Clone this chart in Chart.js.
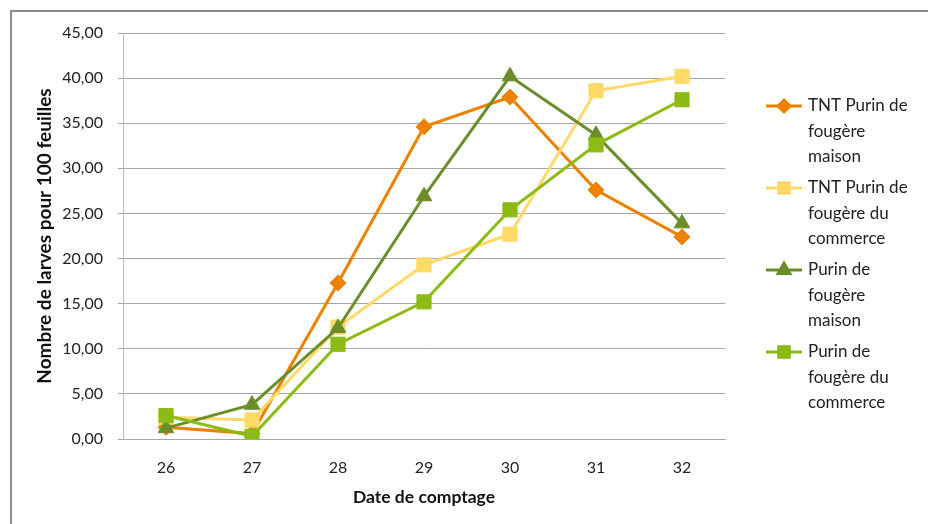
<!DOCTYPE html>
<html>
<head>
<meta charset="utf-8">
<script src="https://cdn.jsdelivr.net/npm/chart.js@4.4.1/dist/chart.umd.min.js"></script>
<style>
  html, body { margin: 0; padding: 0; background: #fff; }
  #wrap { width: 928px; height: 524px; }
</style>
</head>
<body>
<div id="wrap"><canvas id="myChart" width="928" height="524"></canvas></div>
<script>
// data
const dates = ['26', '27', '28', '29', '30', '31', '32'];
const tntMaison = [1.3, 0.6, 17.3, 34.6, 37.9, 27.6, 22.4];
const tntCommerce = [2.4, 2.1, 12.4, 19.3, 22.7, 38.6, 40.2];
const purinMaison = [1.2, 3.8, 12.3, 26.9, 40.2, 33.7, 23.9];
const purinCommerce = [2.6, 0.3, 10.5, 15.2, 25.4, 32.6, 37.6];
const seriesNames = [
  ['TNT Purin de', 'fougère', 'maison'],
  ['TNT Purin de', 'fougère du', 'commerce'],
  ['Purin de', 'fougère', 'maison'],
  ['Purin de', 'fougère du', 'commerce']
];

const FONT = 'Lato, "Open Sans", sans-serif';

function makeSet(label, data, color, shape, radius, order) {
  return {
    label: label.join(' '),
    legendLines: label,
    data: data,
    borderColor: color,
    backgroundColor: color,
    borderWidth: 3,
    pointStyle: shape,
    pointRadius: radius,
    pointHoverRadius: radius,
    pointBorderWidth: 1,
    tension: 0,
    order: order
  };
}

// frame around the whole chart + white background
const framePlugin = {
  id: 'frame',
  beforeDraw(chart) {
    const ctx = chart.ctx;
    ctx.save();
    ctx.fillStyle = '#fff';
    ctx.fillRect(0, 0, chart.width, chart.height);
    ctx.strokeStyle = '#8c8c8c';
    ctx.lineWidth = 2;
    ctx.strokeRect(11, 11, chart.width + 20, chart.height + 20);
    ctx.restore();
  }
};

// legend on the right with wrapped labels
const sideLegend = {
  id: 'sideLegend',
  afterDraw(chart) {
    const ctx = chart.ctx;
    const x0 = 766, lineLen = 36, textX = 808;
    const lineH = 25.5, itemGap = 82;
    let y = 106;
    ctx.save();
    chart.data.datasets.forEach((ds) => {
      ctx.strokeStyle = ds.borderColor;
      ctx.lineWidth = ds.borderWidth;
      ctx.beginPath();
      ctx.moveTo(x0, y);
      ctx.lineTo(x0 + lineLen, y);
      ctx.stroke();
      ctx.fillStyle = ds.backgroundColor;
      // legend markers a bit smaller than on the plot
      Chart.helpers.drawPoint(ctx, {
        pointStyle: ds.pointStyle,
        radius: ds.pointRadius * 0.75,
        borderWidth: 1,
        rotation: 0
      }, x0 + lineLen / 2, y);
      ctx.fillStyle = '#222';
      ctx.font = '17px ' + FONT;
      ctx.textBaseline = 'middle';
      ctx.textAlign = 'left';
      ds.legendLines.forEach((t, i) => {
        ctx.fillText(t, textX, y + i * lineH);
      });
      y += itemGap;
    });
    ctx.restore();
  }
};

const ctx = document.getElementById('myChart');

new Chart(ctx, {
  type: 'line',
  data: {
    labels: dates,
    datasets: [
      makeSet(seriesNames[0], tntMaison, '#EE8200', 'rectRot', 8, 4),
      makeSet(seriesNames[1], tntCommerce, '#FFD966', 'rect', 10, 3),
      makeSet(seriesNames[2], purinMaison, '#6B8E2A', 'triangle', 9, 2),
      makeSet(seriesNames[3], purinCommerce, '#8CBB16', 'rect', 10, 1)
    ]
  },
  options: {
    responsive: false,
    animation: false,
    layout: { padding: { left: 11, top: 33, right: 203, bottom: 11 } },
    plugins: {
      legend: { display: false },
      tooltip: { enabled: false }
    },
    scales: {
      x: {
        offset: true,
        grid: { display: false },
        border: { display: true, color: '#a6a6a6', width: 1 },
        ticks: { color: '#222', font: { family: FONT, size: 16 }, padding: 11 },
        title: {
          display: true,
          text: 'Date de comptage',
          color: '#111',
          font: { family: FONT, size: 17.5, weight: 'bold' },
          padding: { top: 4, bottom: 5.5 }
        },
        afterFit(scale) { scale.height = 74; }
      },
      y: {
        min: 0,
        max: 45,
        grid: { color: '#a6a6a6', tickLength: 5 },
        border: { display: true, color: '#bdbdbd', width: 1 },
        ticks: {
          stepSize: 5,
          color: '#222',
          font: { family: FONT, size: 16 },
          padding: 15,
          callback: (v) => v.toFixed(2).replace('.', ',')
        },
        title: {
          display: true,
          text: 'Nombre de larves pour 100 feuilles',
          color: '#111',
          font: { family: FONT, size: 19, weight: 'bold' },
          padding: { top: 22.6, bottom: 4 }
        },
        afterFit(scale) { scale.width = 112; }
      }
    }
  },
  plugins: [framePlugin, sideLegend]
});
</script>
</body>
</html>
